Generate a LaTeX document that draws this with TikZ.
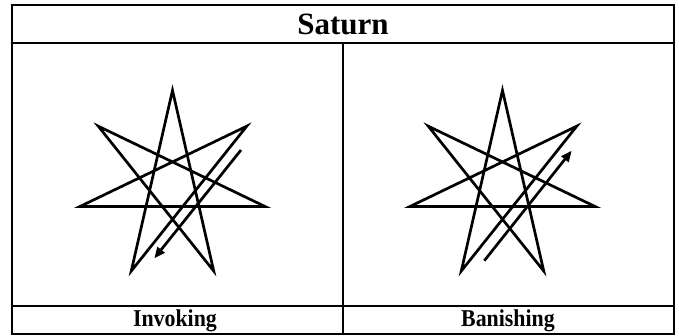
\documentclass[tikz,border=0pt]{standalone}
\usepackage{fontspec}
\setmainfont{Liberation Serif}
\usetikzlibrary{arrows.meta}
\tikzset{
  tabline/.style={line width=2pt},
  starline/.style={line width=2.7pt, line join=miter},
  dirarrow/.style={line width=2.7pt, -{Triangle[length=11pt,width=9pt]}},
  headtext/.style={font=\fontsize{31}{36}\selectfont\bfseries, inner sep=0pt},
  labeltext/.style={font=\fontsize{23}{27}\selectfont\bfseries, inner sep=0pt}
}
\newcommand{\heptagram}[2]{%
  \begin{scope}[shift={(#1,#2)}]
    \draw[starline] (-90:95)
      \foreach \i in {1,...,6} { -- ({-90+\i*3*360/7}:95) } -- cycle;
  \end{scope}}
\begin{document}
\begin{tikzpicture}[x=1pt,y=-1pt]
  \useasboundingbox (0,0) rectangle (679,336);
  % table
  \draw[tabline] (12,5) rectangle (674,334);
  \draw[tabline] (12,43) -- (674,43);
  \draw[tabline] (12,306) -- (674,306);
  \draw[tabline] (343,43) -- (343,334);
  % texts
  \node[headtext] (title) at (343,24) {Saturn};
  \node[labeltext] (inv) at (175,320.5) {\scalebox{0.95}[1.05]{Invoking}};
  \node[labeltext] (ban) at (508,320.5) {\scalebox{0.95}[1.05]{Banishing}};
  % stars
  \heptagram{172.5}{185.4}
  \heptagram{502.5}{185.4}
  % arrows
  \coordinate (invA) at (241,150);
  \coordinate (invB) at (154.3,258.3);
  \coordinate (banA) at (484.3,260.7);
  \coordinate (banB) at (571.7,150.7);
  \draw[dirarrow] (invA) -- (invB);
  \draw[dirarrow] (banA) -- (banB);
\end{tikzpicture}
\end{document}
